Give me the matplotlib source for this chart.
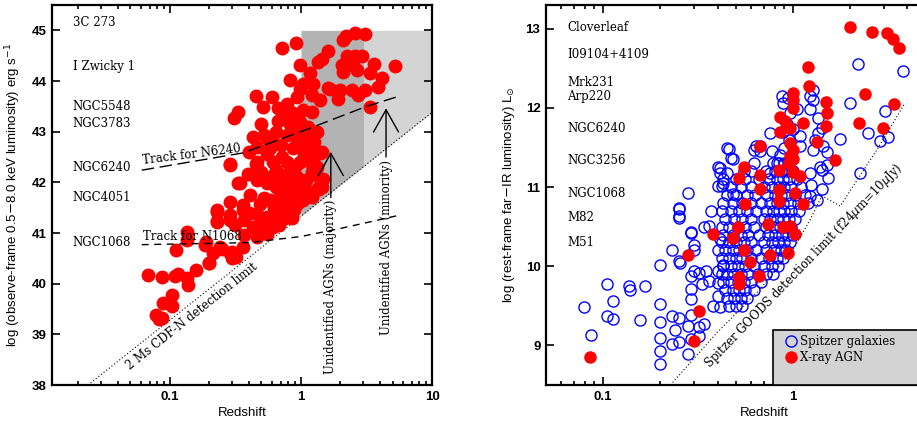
import numpy as np
import matplotlib
matplotlib.use("Agg")
import matplotlib.pyplot as plt
from matplotlib.patches import Rectangle
from matplotlib.ticker import FixedLocator, FixedFormatter, NullFormatter, LogLocator


# ---------------- left panel data: X-ray AGN (redshift, log Lx) ----------------
xray_pts = [
    (0.068, 40.18), (0.087, 40.13), (0.109, 40.15), (0.115, 40.2), (0.134, 40.11),
    (0.138, 39.98), (0.158, 40.27), (0.104, 39.77), (0.104, 39.56), (0.079, 39.38),
    (0.087, 39.33), (0.082, 39.3), (0.088, 39.62), (0.112, 40.67), (0.134, 41.02),
    (0.134, 40.86), (0.199, 40.4), (0.214, 40.6), (0.185, 40.76), (0.24, 40.73),
    (0.296, 40.63), (0.319, 40.53), (0.36, 40.73), (0.23, 41.24), (0.23, 41.45),
    (0.287, 41.61), (0.36, 41.55), (0.332, 41.98), (0.394, 42.17), (0.287, 42.34),
    (0.287, 41.25), (0.19, 40.82), (0.2, 40.4), (0.287, 40.6), (0.3, 40.5),
    (0.25, 40.69), (0.227, 41.42), (0.227, 41.22), (0.287, 41.35), (0.313, 41.15),
    (0.712, 44.65), (0.91, 44.75), (2.2, 44.88), (2.58, 44.95), (3.08, 44.92),
    (2.1, 44.8), (1.6, 44.59), (1.44, 44.44), (1.36, 44.38), (2.23, 44.5),
    (2.58, 44.5), (2.94, 44.5), (2.05, 44.31), (2.48, 44.31), (3.63, 44.34),
    (5.2, 44.29), (0.98, 44.31), (1.17, 44.15), (2.1, 44.18), (2.66, 44.21),
    (3.36, 44.15), (4.13, 44.05), (3.89, 43.88), (1.66, 43.85), (1.98, 43.82),
    (2.44, 43.82), (3.08, 43.82), (1.93, 43.65), (2.74, 43.72), (3.36, 43.48),
    (0.82, 44.01), (0.98, 43.85), (1.04, 43.95), (1.24, 43.95), (1.21, 43.72),
    (1.4, 43.62), (0.45, 43.7), (0.51, 43.49), (0.6, 43.68), (0.67, 43.46),
    (0.33, 43.39), (0.31, 43.27), (0.78, 43.55), (0.93, 43.68), (0.87, 43.36),
    (1.04, 43.42), (1.21, 43.39), (0.67, 43.22), (0.82, 43.16), (0.98, 43.19),
    (1.14, 43.09), (1.32, 42.99), (0.43, 42.9), (0.52, 42.93), (0.56, 42.86),
    (0.78, 42.93), (0.93, 42.86), (1.1, 42.93), (0.46, 42.7), (0.58, 42.67),
    (0.71, 42.73), (0.87, 42.67), (1.04, 42.73), (1.44, 42.6), (0.287, 42.37),
    (0.46, 42.41), (0.61, 42.41), (0.78, 42.41), (0.98, 42.41), (1.24, 42.41),
    (1.62, 43.87), (1.48, 42.07), (1.38, 41.86), (1.21, 42.37), (1.21, 42.2),
    (0.45, 42.37), (0.34, 41.98), (0.41, 41.75), (0.49, 41.58), (0.58, 41.65),
    (0.69, 41.71), (0.82, 41.65), (0.98, 41.71), (1.21, 41.71), (1.44, 41.91),
    (1.32, 42.3), (0.65, 42.24), (0.78, 42.17), (0.93, 42.11), (1.1, 42.04),
    (0.46, 42.04), (0.55, 41.98), (0.65, 41.91), (0.78, 41.84), (0.93, 41.78),
    (0.46, 41.38), (0.55, 41.32), (0.65, 41.35), (0.78, 41.45), (0.43, 41.12),
    (0.52, 41.06), (0.61, 41.12), (0.37, 40.96), (0.46, 40.92), (0.55, 40.99),
    (0.37, 41.25), (0.36, 41.45), (0.93, 41.58), (1.04, 41.65), (1.4, 42.57),
    (1.36, 41.88), (0.68, 41.15), (0.85, 41.3), (0.72, 41.55), (0.62, 41.5),
    (0.52, 41.7), (0.4, 41.4), (0.5, 42.2), (0.58, 42.1), (0.7, 42.0),
    (0.85, 42.0), (1.0, 42.0), (0.9, 42.3), (0.72, 42.5), (0.55, 42.55),
    (1.15, 42.6), (0.65, 43.0), (0.85, 43.05), (0.4, 42.6), (0.5, 43.15),
    (0.95, 43.0), (0.75, 43.3), (0.6, 42.8), (1.25, 42.8), (1.05, 42.55),
    (1.3, 42.15), (1.1, 41.85), (0.88, 41.45), (0.95, 41.85), (0.75, 41.3),
    (0.6, 41.3), (0.5, 41.2),
]

# 2 Ms CDF-N flux limit and the two tracks
cdfn_z = [0.0237, 10.0]
cdfn_L = [38.0, 43.38]
n6240_z = [0.061, 0.36, 1.0, 3.17, 5.6]
n6240_L = [42.24, 42.58, 43.0, 43.5, 43.7]
n1068_z = [0.061, 0.4, 1.0, 2.0, 3.8, 5.6]
n1068_L = [40.77, 40.81, 40.93, 41.09, 41.25, 41.35]

left_names = ["3C 273", "I Zwicky 1", "NGC5548", "NGC3783", "NGC6240", "NGC4051", "NGC1068"]
left_name_L = [45.16, 44.28, 43.49, 43.17, 42.30, 41.70, 40.82]

# ---------------- right panel data ----------------
agn_ir_pts = [
    (2.0, 13.02), (2.59, 12.96), (3.11, 12.95), (3.37, 12.87), (3.63, 12.76),
    (1.2, 12.52), (1.21, 12.28), (2.39, 12.18), (3.4, 12.05), (2.22, 11.81),
    (2.96, 11.75), (1.0, 12.19), (1.0, 12.1), (1.0, 12.0), (1.49, 12.08),
    (1.5, 11.94), (1.49, 11.77), (1.13, 11.81), (1.33, 11.57), (1.66, 11.34),
    (0.85, 11.89), (0.91, 11.83), (0.85, 11.7), (0.96, 11.75), (0.96, 11.56),
    (1.0, 11.47), (0.96, 11.39), (1.0, 11.35), (0.95, 11.31), (0.67, 11.52),
    (0.55, 11.26), (0.52, 11.12), (0.67, 11.15), (0.84, 11.21), (1.0, 11.19),
    (1.09, 11.14), (0.67, 10.97), (0.84, 10.96), (0.84, 10.83), (1.02, 10.93),
    (1.13, 10.79), (0.56, 10.79), (0.74, 10.54), (0.89, 10.49), (0.96, 10.51),
    (1.02, 10.41), (0.51, 10.49), (0.48, 10.36), (0.38, 10.41), (0.55, 10.2),
    (0.76, 10.14), (0.94, 10.17), (0.59, 10.05), (0.66, 9.88), (0.52, 9.86),
    (0.52, 9.78), (0.28, 10.14), (0.32, 9.43), (0.3, 9.06), (0.085, 8.85),
]

spitzer_pts = [
    (0.079, 9.48), (0.086, 9.13), (0.105, 9.77), (0.105, 9.37), (0.112, 9.33),
    (0.113, 9.56), (0.136, 9.75), (0.139, 9.7), (0.166, 9.75), (0.157, 9.32),
    (0.2, 9.52), (0.2, 9.29), (0.2, 9.1), (0.2, 8.93), (0.2, 8.76),
    (0.2, 10.01), (0.23, 10.2), (0.25, 10.06), (0.255, 10.04), (0.25, 10.72),
    (0.25, 10.61), (0.29, 10.42), (0.3, 10.27), (0.3, 10.21), (0.3, 9.94),
    (0.29, 9.88), (0.32, 9.92), (0.35, 9.94), (0.29, 9.71), (0.29, 9.58),
    (0.33, 9.77), (0.36, 9.81), (0.23, 9.37), (0.25, 9.35), (0.29, 9.39),
    (0.24, 9.2), (0.28, 9.25), (0.32, 9.23), (0.34, 9.27), (0.23, 9.02),
    (0.25, 9.04), (0.29, 9.08), (0.32, 9.12), (0.28, 8.89), (0.37, 10.7),
    (0.34, 10.49), (0.36, 10.51), (0.41, 10.34), (0.4, 10.21), (0.4, 9.94),
    (0.43, 10.02), (0.4, 9.79), (0.4, 9.62), (0.38, 9.5), (0.41, 9.48),
    (0.46, 11.48), (0.48, 11.36), (0.41, 11.24), (0.45, 11.18), (0.43, 11.1),
    (0.42, 11.01), (0.28, 10.93), (0.25, 10.74), (0.25, 10.63), (0.29, 10.43),
    (0.67, 11.52), (0.62, 11.47), (0.77, 11.45), (0.82, 11.31), (0.76, 11.18),
    (0.89, 12.06), (0.96, 11.94), (1.0, 11.73), (1.09, 11.64), (1.09, 11.52),
    (1.23, 11.98), (1.28, 12.1), (1.31, 11.6), (1.28, 11.47), (1.39, 11.26),
    (2.21, 12.55), (3.8, 12.47), (2.0, 12.06), (3.05, 11.96), (2.49, 11.68),
    (2.87, 11.58), (3.17, 11.63), (1.77, 11.61), (2.25, 11.18), (1.28, 12.23),
    (1.23, 12.15), (1.36, 11.87), (1.42, 11.75), (1.36, 11.68), (1.44, 11.52),
    (1.5, 11.44), (1.5, 11.28), (1.53, 11.12), (1.42, 11.22), (1.42, 10.97),
    (1.33, 10.84), (1.23, 11.18), (1.25, 11.03), (1.23, 10.89), (0.76, 11.68),
    (0.67, 11.45), (0.64, 11.52), (0.45, 11.5), (0.47, 11.37), (0.4, 11.26),
    (0.41, 11.18), (0.43, 11.05), (0.4, 11.01), (0.48, 10.91), (0.94, 12.13),
    (1.05, 11.98), (0.85, 11.4), (0.9, 11.5), (0.95, 11.6), (0.88, 11.7),
    (0.93, 11.8), (0.87, 12.15),
]

# dense core of the Spitzer sample, read row by row (log L, list of redshifts)
core_L = [11.3, 11.2, 11.1, 11.0, 10.9, 10.8, 10.7, 10.6, 10.5, 10.4,
          10.3, 10.2, 10.1, 10.0, 9.9, 9.8, 9.7, 9.6, 9.5]
core_z = [
    [0.62, 0.78, 0.84, 0.9, 0.95],
    [0.55, 0.6, 0.72, 0.8, 0.86, 0.93, 1.0],
    [0.5, 0.56, 0.66, 0.75, 0.82, 0.88, 0.95, 1.05],
    [0.47, 0.53, 0.6, 0.7, 0.77, 0.84, 0.9, 0.98, 1.1],
    [0.45, 0.5, 0.57, 0.63, 0.73, 0.8, 0.86, 0.93, 1.02, 1.15],
    [0.43, 0.48, 0.54, 0.6, 0.68, 0.76, 0.82, 0.88, 0.96, 1.06, 1.2],
    [0.42, 0.47, 0.52, 0.57, 0.64, 0.72, 0.78, 0.84, 0.9, 0.98, 1.08],
    [0.44, 0.49, 0.54, 0.6, 0.7, 0.76, 0.82, 0.88, 0.95, 1.02],
    [0.42, 0.46, 0.51, 0.56, 0.62, 0.72, 0.79, 0.85, 0.91, 0.98],
    [0.43, 0.48, 0.53, 0.58, 0.66, 0.74, 0.8, 0.87, 0.94, 1.0],
    [0.42, 0.46, 0.5, 0.55, 0.6, 0.7, 0.77, 0.83, 0.9, 0.96],
    [0.44, 0.48, 0.52, 0.57, 0.64, 0.72, 0.79, 0.86, 0.92],
    [0.42, 0.46, 0.5, 0.54, 0.6, 0.68, 0.75, 0.82, 0.88],
    [0.43, 0.47, 0.51, 0.56, 0.62, 0.7, 0.77, 0.83],
    [0.42, 0.45, 0.49, 0.53, 0.58, 0.65, 0.72, 0.78],
    [0.43, 0.47, 0.51, 0.55, 0.6, 0.68],
    [0.44, 0.48, 0.52, 0.56, 0.62],
    [0.45, 0.49, 0.53, 0.57],
    [0.46, 0.5, 0.54],
]

goods_z = [0.226, 0.397, 0.67, 1.0, 1.23, 1.42, 1.77, 2.76, 3.88]
goods_L = [8.5, 9.16, 9.71, 10.21, 10.59, 10.89, 10.76, 11.47, 12.06]

right_names = ["Cloverleaf", "I09104+4109", "Mrk231", "Arp220", "NGC6240",
               "NGC3256", "NGC1068", "M82", "M51"]
right_name_L = [13.02, 12.67, 12.32, 12.15, 11.74, 11.33, 10.92, 10.61, 10.30]

SERIF = "DejaVu Serif"
SANS = "Liberation Sans"


def style_axes(ax, ymaj, xmaj, xlabels):
    ax.set_xscale("log")
    ax.xaxis.set_major_locator(FixedLocator(xmaj))
    ax.xaxis.set_major_formatter(FixedFormatter(xlabels))
    ax.xaxis.set_minor_locator(LogLocator(base=10, subs=np.arange(2, 10)))
    ax.xaxis.set_minor_formatter(NullFormatter())
    ax.yaxis.set_major_locator(FixedLocator(ymaj))
    ax.tick_params(which="both", direction="in", top=True, right=True, width=1.2)
    ax.tick_params(which="major", length=6, pad=4)
    ax.tick_params(which="minor", length=3)
    for s in ax.spines.values():
        s.set_linewidth(1.6)
    for lab in ax.get_xticklabels() + ax.get_yticklabels():
        lab.set_fontfamily(SANS)
        lab.set_fontweight("bold")
        lab.set_fontsize(9.5)
    ax.set_xlabel("Redshift", family=SANS, fontsize=9.5, labelpad=3)


fig = plt.figure(figsize=(9.17, 4.24), dpi=100)

# ======================= left panel =======================
ax1 = fig.add_axes([52 / 917, 39 / 424, 380 / 917, 380 / 424])
ax1.set_xlim(0.0126, 10)
ax1.set_ylim(38, 45.5)

# shaded regions above the detection limit
lz = np.logspace(0, np.log10(3), 30)
ax1.fill_between(lz, np.interp(np.log10(lz), np.log10(cdfn_z), cdfn_L), 45,
                 color="#b3b3b3", lw=0, zorder=1)
lz = np.logspace(np.log10(3), 1, 30)
ax1.fill_between(lz, np.interp(np.log10(lz), np.log10(cdfn_z), cdfn_L), 45,
                 color="#d4d4d4", lw=0, zorder=1)

ax1.plot(cdfn_z, cdfn_L, color="black", lw=0.8, ls=(0, (1, 2)), zorder=2)

xz, xl = np.array(xray_pts).T
ax1.plot(xz, xl, "o", ms=9, color="red", mec="red", zorder=3)

l1, = ax1.plot(n6240_z, n6240_L, color="black", lw=1.0, zorder=4)
l1.set_dashes([9, 4])
l2, = ax1.plot(n1068_z, n1068_L, color="black", lw=1.0, zorder=4)
l2.set_dashes([5, 4])

ax1.text(0.063, 42.3, "Track for N6240", family=SERIF, fontsize=8.5, rotation=7,
         rotation_mode="anchor", ha="left", va="bottom", zorder=5)
ax1.text(0.062, 40.86, "Track for N1068", family=SERIF, fontsize=8.5,
         ha="left", va="baseline", zorder=5)

for name, yv in zip(left_names, left_name_L):
    ax1.text(0.055, yv, name, transform=ax1.get_yaxis_transform(), family=SERIF,
             fontsize=8.5, ha="left", va="center")

ax1.text(0.147, 39.36, "2 Ms CDF-N detection limit", family=SERIF, fontsize=8.5,
         rotation=38.5, ha="center", va="center", rotation_mode="anchor")

arrow = dict(arrowstyle="->,head_length=1.6,head_width=0.9", lw=1.0, color="black",
             shrinkA=0, shrinkB=0, mutation_scale=10)
ax1.annotate("", xy=(1.69, 42.6), xytext=(1.69, 41.7), arrowprops=arrow, zorder=5)
ax1.annotate("", xy=(4.46, 43.46), xytext=(4.46, 42.5), arrowprops=arrow, zorder=5)
ax1.text(1.69, 39.93, "Unidentified AGNs (majority)", family=SERIF, fontsize=8.5,
         rotation=90, ha="center", va="center")
ax1.text(4.46, 40.72, "Unidentified AGNs (minority)", family=SERIF, fontsize=8.5,
         rotation=90, ha="center", va="center")

style_axes(ax1, [38, 39, 40, 41, 42, 43, 44, 45], [0.1, 1, 10], ["0.1", "1", "10"])
ax1.set_ylabel("log (observe-frame 0.5$-$8.0 keV luminosity) erg s$^{-1}$",
               family=SANS, fontsize=9.5, labelpad=6)

# ======================= right panel =======================
# axes run past the right edge of the figure, as in the cropped original
ax2 = fig.add_axes([546 / 917, 39 / 424, 437 / 917, 380 / 424])
ax2.set_xlim(0.05, 10)
ax2.set_ylim(8.5, 13.3)

core_pts = [(z, L) for L, zs in zip(core_L, core_z) for z in zs]
sz, sl = np.array(spitzer_pts + core_pts).T
ax2.plot(sz, sl, "o", ms=8, mfc="none", mec="blue", mew=1.0, zorder=2,
         label="Spitzer galaxies")
az, al = np.array(agn_ir_pts).T
ax2.plot(az, al, "o", ms=8, color="red", mec="red", zorder=3, label="X-ray AGN")

ax2.plot(goods_z, goods_L, color="black", lw=0.8, ls=(0, (1, 2)), zorder=4)
ax2.text(1.14, 10.0, "Spitzer GOODS detection limit (f24$\\mu$m=10$\\mu$Jy)",
         family=SERIF, fontsize=8.5, rotation=46, ha="center", va="center",
         rotation_mode="anchor", zorder=5)

for name, yv in zip(right_names, right_name_L):
    ax2.text(0.048, yv, name, transform=ax2.get_yaxis_transform(), family=SERIF,
             fontsize=8.5, ha="left", va="center")

ax2.add_patch(Rectangle((0.519, 0), 1.0, 0.145, transform=ax2.transAxes,
                        facecolor="#d3d3d3", edgecolor="black", lw=1.2, zorder=6))
leg = ax2.legend(loc="upper left", bbox_to_anchor=(0.53, 0.15), frameon=False,
                 prop={"family": SERIF, "size": 8.5}, handletextpad=0.3,
                 labelspacing=0.25, handlelength=1.0, borderaxespad=0.2)
leg.set_zorder(7)

style_axes(ax2, [9, 10, 11, 12, 13], [0.1, 1], ["0.1", "1"])
ax2.set_ylabel("log (rest-frame far$-$IR luminosity) L$_{\\odot}$",
               family=SANS, fontsize=9.5, labelpad=6)

fig.savefig("out.png", dpi=100)
